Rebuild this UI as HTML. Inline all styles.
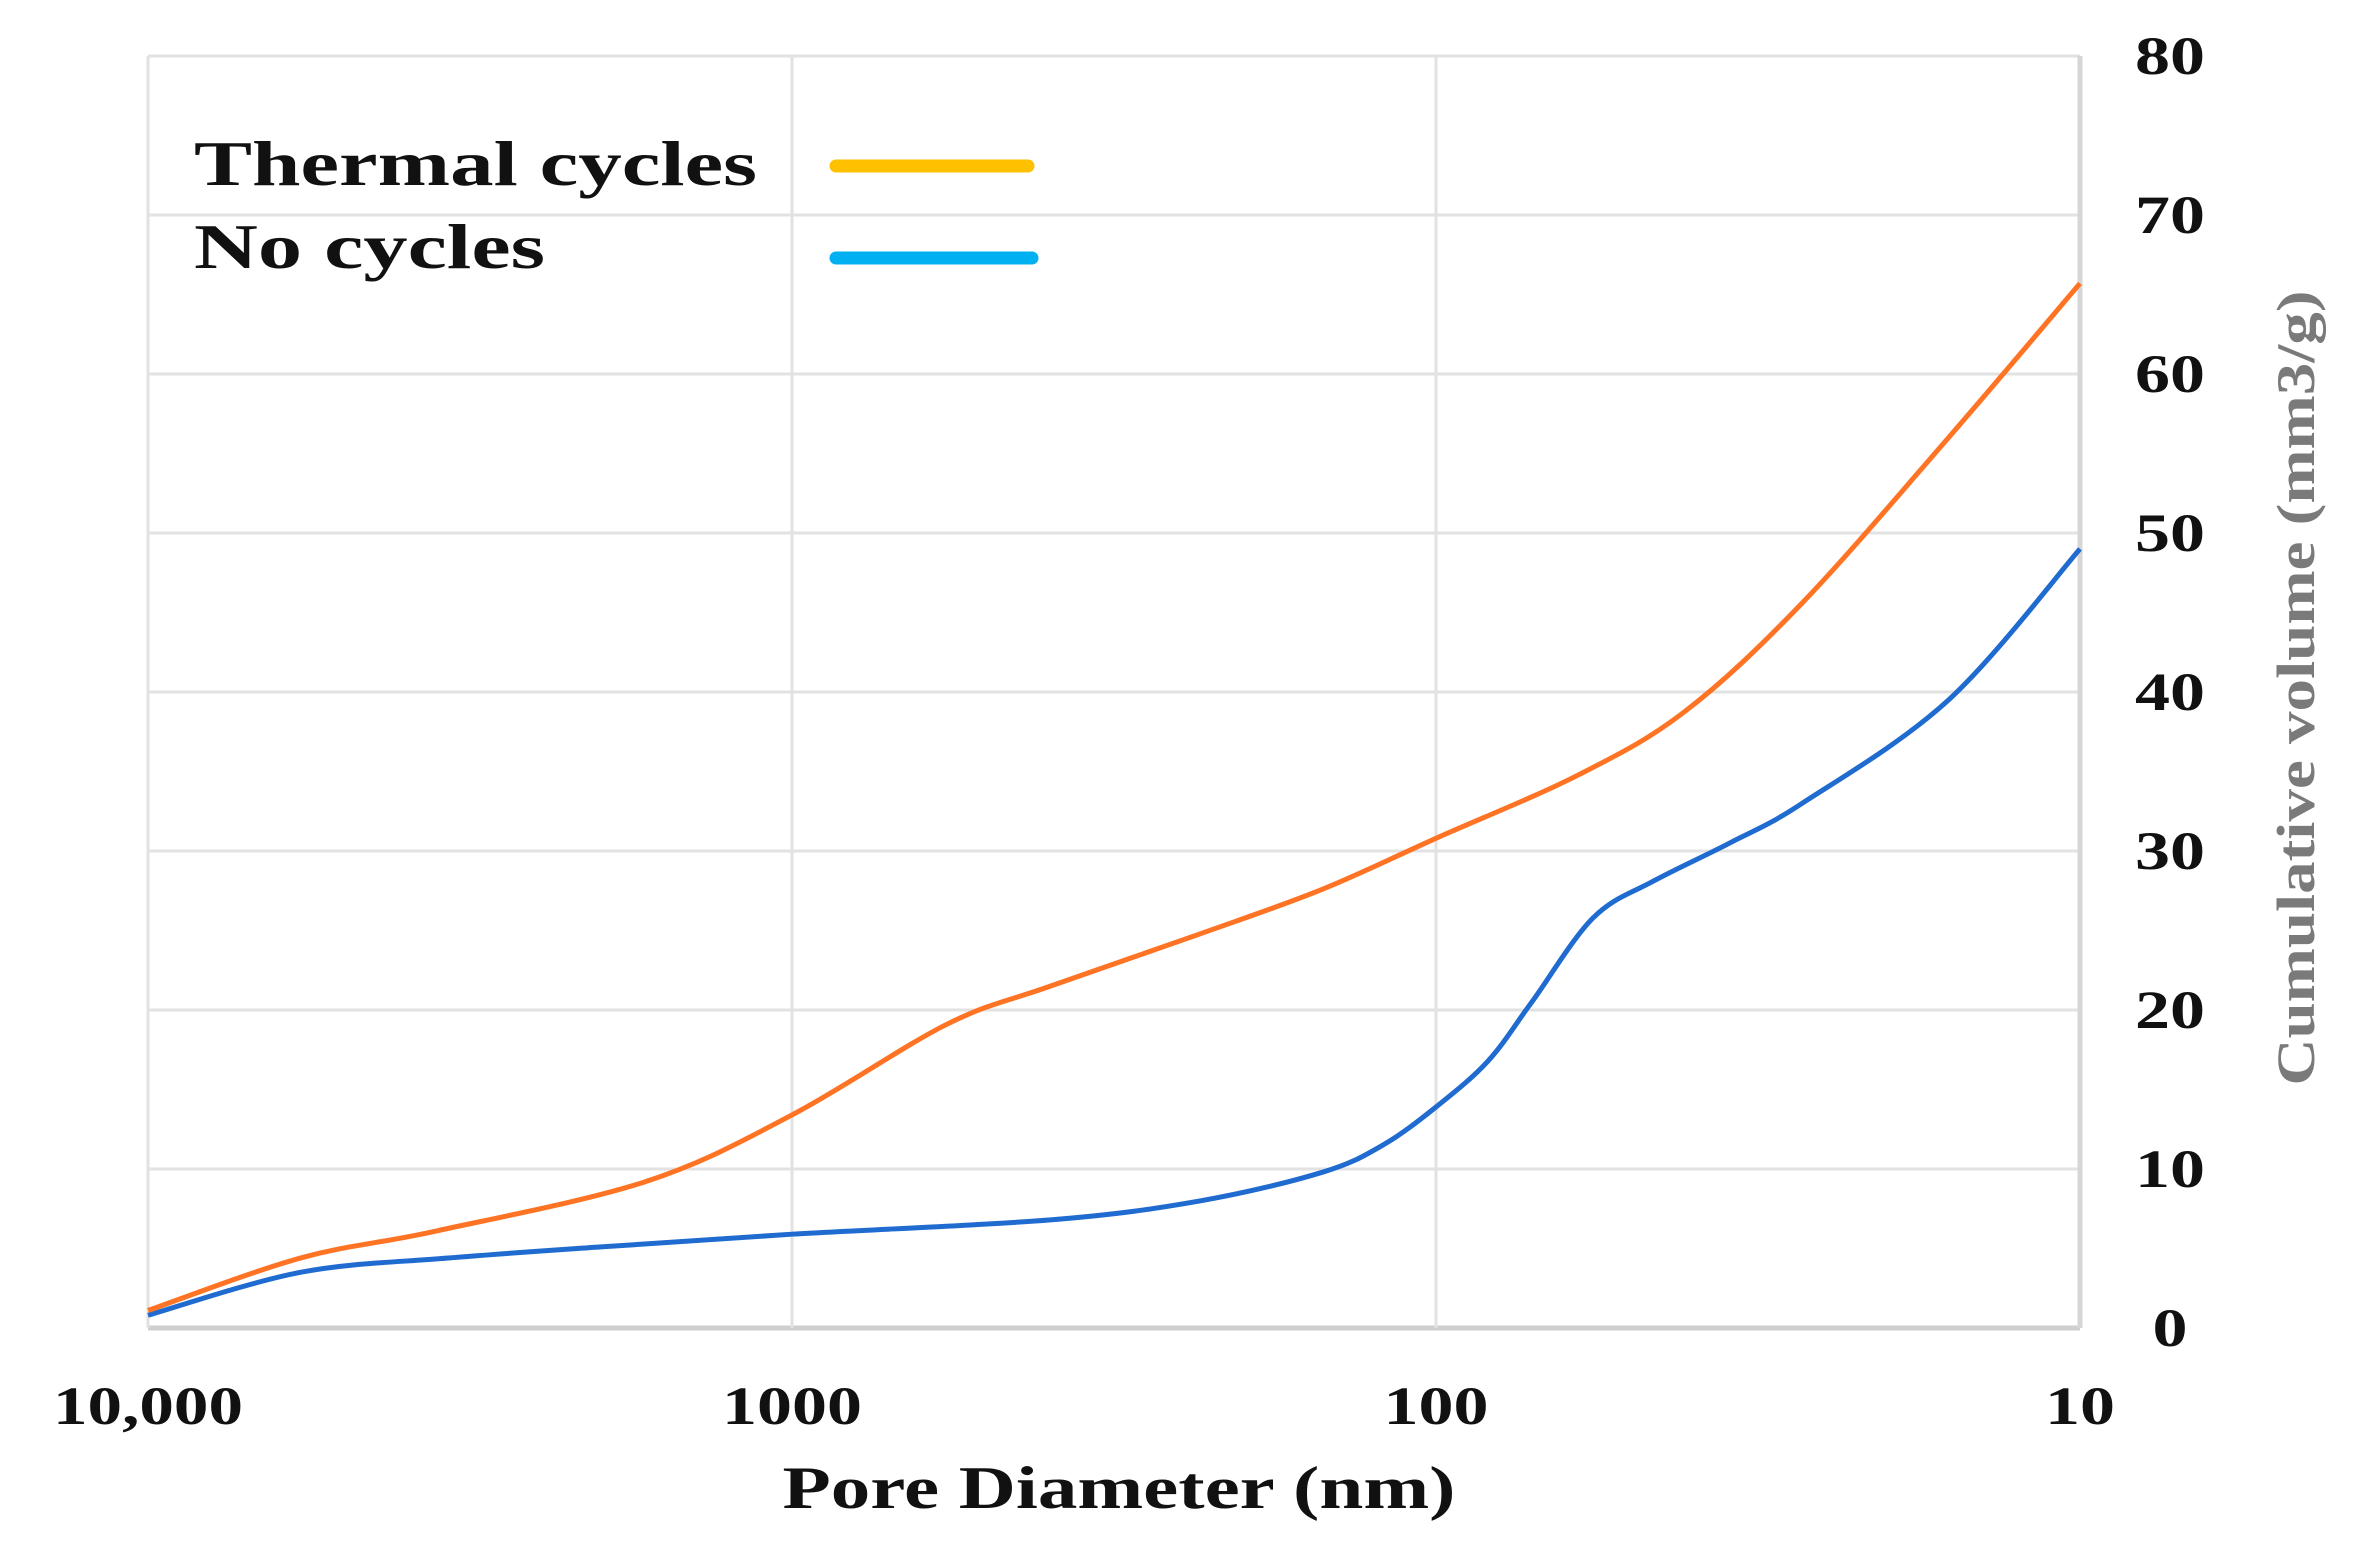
<!DOCTYPE html>
<html><head><meta charset="utf-8"><style>
html,body{margin:0;padding:0;background:#fff;}
svg{display:block;}
text{font-family:"Liberation Serif",serif;font-weight:bold;}
</style></head><body>
<svg id="chart" width="2360" height="1548" viewBox="0 0 2360 1548">
<g id="grid"></g>
<g id="series"></g>
<g id="ticks"></g>
<text x="1119" y="1508" font-size="60" text-anchor="middle" textLength="673" lengthAdjust="spacingAndGlyphs" fill="#111">Pore Diameter (nm)</text>
<text transform="translate(2314,688) rotate(-90)" font-size="54" text-anchor="middle" textLength="795" lengthAdjust="spacingAndGlyphs" fill="#7a7a7a">Cumulative volume (mm3/g)</text>
<g>
<text x="194" y="185" font-size="64" textLength="563" lengthAdjust="spacingAndGlyphs" fill="#111">Thermal cycles</text>
<line x1="836" y1="166" x2="1028" y2="166" stroke="#FFC000" stroke-width="13" stroke-linecap="round"/>
<text x="194" y="268" font-size="64" textLength="351" lengthAdjust="spacingAndGlyphs" fill="#111">No cycles</text>
<line x1="836" y1="258" x2="1032" y2="258" stroke="#00B0F0" stroke-width="13" stroke-linecap="round"/>
</g>
</svg>
<script>
const xTicks=[10000,1000,100,10];
const xTickLabels=["10,000","1000","100","10"];
const yTicks=[0,10,20,30,40,50,60,70,80];
const thermalD=[10000,5800,3570,1690,1000,575,397,232,150,100,60,41,27,16,10];
const thermalV=[1.1,4.4,6.1,9.2,13.4,19.1,21.5,24.8,27.6,30.8,34.8,38.8,45.6,56,65.7];
const noCycD=[10000,5800,3420,1980,1000,397,232,150,121,100,83,71,57,46,35,27,16,10];
const noCycV=[0.8,3.5,4.4,5.1,5.9,6.8,8.0,9.8,11.5,13.9,16.8,20.5,25.8,28.1,30.5,33,39.5,49];

const L=148,R=2080,T=56,B=1328;
const xs=d=>L+(4-Math.log10(d))/3*(R-L);
const ys=v=>B-v/80*(B-T);
const NS="http://www.w3.org/2000/svg";
function mk(tag,attrs,parent){const e=document.createElementNS(NS,tag);for(const k in attrs)e.setAttribute(k,attrs[k]);parent.appendChild(e);return e;}
const grid=document.getElementById('grid'),ticks=document.getElementById('ticks'),series=document.getElementById('series');
yTicks.forEach(v=>{
  const ln=mk('line',{x1:L,x2:R,y1:ys(v),y2:ys(v),stroke:v===0?'#cfcfcf':'#e2e2e2','stroke-width':v===0?5:3},grid);
  
  
  const s=String(v);
  const t=mk('text',{x:2170,y:ys(v)+18,'font-size':54,'text-anchor':'middle',fill:'#111',textLength:s.length*35,lengthAdjust:'spacingAndGlyphs'},ticks);
  t.textContent=s;
  
  
});
xTicks.forEach((d,i)=>{
  const ln=mk('line',{x1:xs(d),x2:xs(d),y1:T,y2:B,stroke:(i===3)?'#d6d6d6':'#e2e2e2','stroke-width':(i===3)?5:3},grid);
  
  
  const s=xTickLabels[i];
  const w=s.replace(',','').length*35+(s.includes(',')?15:0);
  const t=mk('text',{x:xs(d),y:1424,'font-size':54,'text-anchor':'middle',fill:'#111',textLength:w,lengthAdjust:'spacingAndGlyphs'},ticks);
  t.textContent=s;
  
  
});
function path(D,V){
  const p=D.map((d,i)=>[xs(d),ys(V[i])]);
  let s=`M${p[0][0]},${p[0][1]}`;
  for(let i=0;i<p.length-1;i++){
    const p0=p[Math.max(0,i-1)],p1=p[i],p2=p[i+1],p3=p[Math.min(p.length-1,i+2)];
    const c1=[p1[0]+(p2[0]-p0[0])/6,p1[1]+(p2[1]-p0[1])/6];
    const c2=[p2[0]-(p3[0]-p1[0])/6,p2[1]-(p3[1]-p1[1])/6];
    s+=` C${c1[0]},${c1[1]} ${c2[0]},${c2[1]} ${p2[0]},${p2[1]}`;
  }
  return s;
}
const pb=mk('path',{d:path(noCycD,noCycV),fill:'none',stroke:'#1F6BD0','stroke-width':5},series);


const po=mk('path',{d:path(thermalD,thermalV),fill:'none',stroke:'#FF7424','stroke-width':5},series);


</script>
</body></html>
